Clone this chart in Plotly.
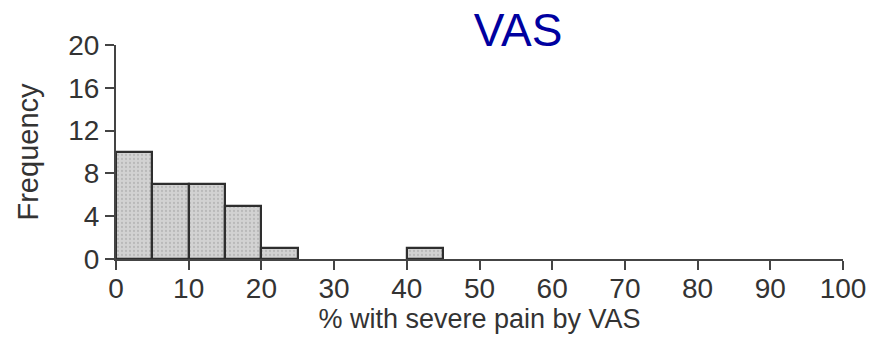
import plotly.graph_objects as go

bin_left = [0, 5, 10, 15, 20, 40]
counts = [10, 7, 7, 5, 1, 1]
bin_width = 5
x_ticks = [0, 10, 20, 30, 40, 50, 60, 70, 80, 90, 100]
y_ticks = [0, 4, 8, 12, 16, 20]

FONT = "Liberation Sans, Arial, sans-serif"

fig = go.Figure()
fig.add_trace(go.Bar(
    x=bin_left, y=counts, width=[bin_width] * len(counts), offset=0,
    marker=dict(color="#cdcdcd",
                line=dict(color="#2e2e2e", width=2.2),
                pattern=dict(shape=".", size=4, solidity=0.25, fgcolor="#a0a0a0", bgcolor="#d2d2d2")),
    showlegend=False,
))

axis_font = dict(family=FONT, size=28, color="#333333")
fig.update_layout(
    width=884, height=344,
    margin=dict(l=116, r=41, t=45, b=85),
    paper_bgcolor="white", plot_bgcolor="white",
    title=dict(text="VAS", x=0.586, xref="container", xanchor="center",
               y=0.913, yref="container", yanchor="middle",
               font=dict(family=FONT, size=46, color="#0000a0")),
    bargap=0,
)
fig.update_xaxes(range=[0, 100], tickvals=x_ticks, ticktext=[str(v) for v in x_ticks],
                 showline=True, linecolor="#444444", linewidth=2, ticks="outside",
                 ticklen=9, tickwidth=2, tickcolor="#444444", showgrid=False, zeroline=False,
                 tickfont=axis_font, ticklabelstandoff=-6,
                 title=dict(text="% with severe pain by VAS", standoff=2,
                            font=dict(family=FONT, size=27, color="#333333")))
fig.update_yaxes(range=[0, 20], tickvals=y_ticks, ticktext=[str(v) for v in y_ticks],
                 showline=True, linecolor="#444444", linewidth=2, ticks="outside",
                 ticklen=9, tickwidth=2, tickcolor="#444444", showgrid=False, zeroline=False,
                 tickfont=axis_font,
                 title=dict(text="Frequency", standoff=21,
                            font=dict(family=FONT, size=29, color="#333333")))

fig.write_html("out.html")
